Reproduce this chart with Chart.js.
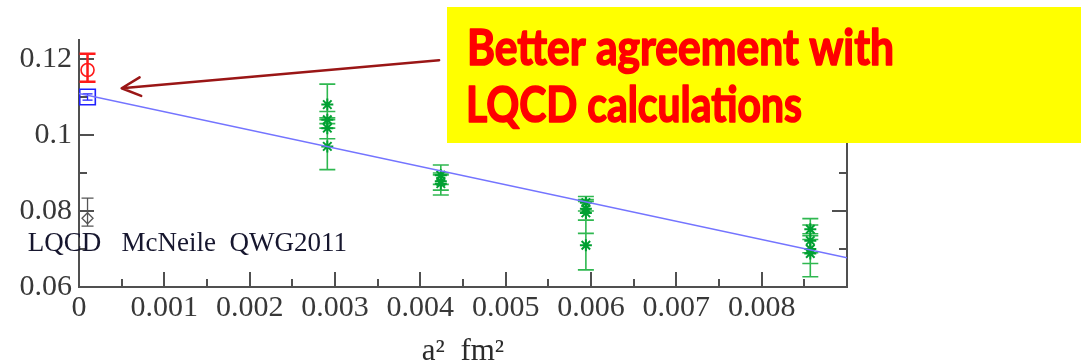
<!DOCTYPE html>
<html>
<head>
<meta charset="utf-8">
<script src="https://cdn.jsdelivr.net/npm/chart.js@4.4.1/dist/chart.umd.min.js"></script>
<style>
  html, body { margin: 0; padding: 0; background: #ffffff; }
  canvas { display: block; }
</style>
</head>
<body>
<canvas id="chart" width="1081" height="361"></canvas>
<script>
// ---- axis ticks ----
const xMajorTicks = [0, 0.001, 0.002, 0.003, 0.004, 0.005, 0.006, 0.007, 0.008];
const xTickLabels = ['0', '0.001', '0.002', '0.003', '0.004', '0.005', '0.006', '0.007', '0.008'];
const xMinorTicks = [0.0005, 0.0015, 0.0025, 0.0035, 0.0045, 0.0055, 0.0065, 0.0075, 0.0085];
const yMajorTicks = [0.06, 0.08, 0.10, 0.12];
const yTickLabels = ['0.06', '0.08', '0.1', '0.12'];
const yMinorTicks = [0.07, 0.09, 0.11];

// ---- lattice ensembles (green), a^2 in fm^2 ----
const latticeX  = [0.00291, 0.00291, 0.00291, 0.00291,
                   0.00424, 0.00424, 0.00424,
                   0.00594, 0.00594, 0.00594, 0.00594,
                   0.00857, 0.00857, 0.00857, 0.00857];
const latticeY  = [0.1080, 0.1040, 0.1018, 0.0970,
                   0.0894, 0.0878, 0.0872,
                   0.0822, 0.0806, 0.0795, 0.0710,
                   0.0752, 0.0722, 0.0700, 0.0688];
const latticeLo = [0.1040, 0.1018, 0.0990, 0.0909,
                   0.0870, 0.0855, 0.0842,
                   0.0800, 0.0776, 0.0741, 0.0645,
                   0.0725, 0.0690, 0.0662, 0.0627];
const latticeHi = [0.1134, 0.1062, 0.1045, 0.1030,
                   0.0921, 0.0900, 0.0895,
                   0.0838, 0.0830, 0.0825, 0.0776,
                   0.0780, 0.0763, 0.0735, 0.0740];

// ---- values at a^2 -> 0 ----
const redX = [0.0001],   redY = [0.1171],   redLo = [0.1140],   redHi = [0.1214];
const blueX = [0.0001],  blueY = [0.1100],  blueLo = [0.1092],  blueHi = [0.1108];
const blackX = [0.0001], blackY = [0.0781], blackLo = [0.0760], blackHi = [0.0834];

// ---- linear continuum extrapolation ----
const fitX = [0, 0.009];
const fitY = [0.1109, 0.0677];

// ---- labels ----
const sourceLabel = 'LQCD   McNeile  QWG2011';
const sourceAt = [-0.0006, 0.0695];
const noteLines = ['Better agreement with', 'LQCD calculations'];
const arrowFrom = [0.00422, 0.1197];
const arrowTo = [0.0005, 0.1123];

const pts = (xs, ys) => xs.map((x, i) => ({ x: x, y: ys[i] }));
const serif = "'Liberation Serif', 'Times New Roman', serif";
const axisColor = '#505050';

// inward ticks on left, bottom and right, plus the right frame edge
const frameTicks = {
  id: 'frameTicks',
  beforeDatasetsDraw(chart) {
    const { ctx, chartArea: a, scales: { x, y } } = chart;
    ctx.save();
    ctx.strokeStyle = axisColor;
    ctx.lineWidth = 2;
    ctx.beginPath();
    ctx.moveTo(a.right, a.top);
    ctx.lineTo(a.right, a.bottom);
    const majorLen = 15, minorLen = 8;
    const vTick = (v, len) => {
      const px = Math.round(x.getPixelForValue(v));
      ctx.moveTo(px, a.bottom); ctx.lineTo(px, a.bottom - len);
    };
    const hTick = (v, len) => {
      const py = Math.round(y.getPixelForValue(v));
      ctx.moveTo(a.left, py); ctx.lineTo(a.left + len, py);
      ctx.moveTo(a.right, py); ctx.lineTo(a.right - len, py);
    };
    xMajorTicks.forEach(v => vTick(v, majorLen));
    xMinorTicks.forEach(v => vTick(v, minorLen));
    yMajorTicks.forEach(v => hTick(v, majorLen));
    yMinorTicks.forEach(v => hTick(v, minorLen));
    ctx.stroke();
    ctx.restore();
  }
};

// vertical error bars with caps
const errorBars = {
  id: 'errorBars',
  beforeDatasetsDraw(chart) {
    const { ctx, scales: { x, y } } = chart;
    chart.data.datasets.forEach(ds => {
      if (!ds.errLo) return;
      ctx.save();
      ctx.strokeStyle = ds.errColor || ds.borderColor;
      ctx.lineWidth = ds.errWidth || 1.5;
      ctx.beginPath();
      ds.data.forEach((p, i) => {
        const px = x.getPixelForValue(p.x);
        const lo = y.getPixelForValue(ds.errLo[i]);
        const hi = y.getPixelForValue(ds.errHi[i]);
        const c = ds.capHalf;
        ctx.moveTo(px, lo); ctx.lineTo(px, hi);
        ctx.moveTo(px - c, lo); ctx.lineTo(px + c, lo);
        ctx.moveTo(px - c, hi); ctx.lineTo(px + c, hi);
      });
      ctx.stroke();
      ctx.restore();
    });
  }
};

// text label, arrow and highlighted note
const notes = {
  id: 'notes',
  afterDraw(chart) {
    const { ctx, scales: { x, y } } = chart;
    ctx.save();

    ctx.fillStyle = '#16162e';
    ctx.font = '27px ' + serif;
    ctx.textBaseline = 'alphabetic';
    ctx.textAlign = 'left';
    ctx.fillText(sourceLabel, x.getPixelForValue(sourceAt[0]), y.getPixelForValue(sourceAt[1]));

    const x0 = x.getPixelForValue(arrowFrom[0]), y0 = y.getPixelForValue(arrowFrom[1]);
    const x1 = x.getPixelForValue(arrowTo[0]), y1 = y.getPixelForValue(arrowTo[1]);
    ctx.strokeStyle = '#9a1616';
    ctx.lineWidth = 2.5;
    ctx.lineCap = 'round';
    ctx.lineJoin = 'round';
    ctx.beginPath();
    ctx.moveTo(x0, y0); ctx.lineTo(x1, y1);
    const ang = Math.atan2(y0 - y1, x0 - x1), L = 21, spread = 0.46;
    ctx.moveTo(x1 + L * Math.cos(ang + spread), y1 + L * Math.sin(ang + spread));
    ctx.lineTo(x1, y1);
    ctx.lineTo(x1 + L * Math.cos(ang - spread), y1 + L * Math.sin(ang - spread));
    ctx.stroke();

    ctx.fillStyle = '#ffff00';
    ctx.fillRect(447, 7, 634, 136);

    ctx.fillStyle = '#ff0000';
    ctx.strokeStyle = '#ff0000';
    ctx.lineWidth = 1.6;
    ctx.lineJoin = 'round';
    ctx.font = "bold 49px 'Comic Sans MS', 'Lato', sans-serif";
    const fit = (text, tx, ty, w) => {
      const m = ctx.measureText(text).width;
      ctx.save();
      ctx.translate(tx, ty);
      ctx.scale(w / m, 1);
      ctx.fillText(text, 0, 0);
      ctx.strokeText(text, 0, 0);
      ctx.restore();
    };
    fit(noteLines[0], 467, 65, 427);
    fit(noteLines[1], 466, 122, 336);
    ctx.restore();
  }
};

new Chart(document.getElementById('chart'), {
  type: 'scatter',
  data: {
    datasets: [
      {
        type: 'line', data: pts(fitX, fitY),
        borderColor: '#7474ff', borderWidth: 1.5, pointRadius: 0, fill: false
      },
      {
        data: pts(latticeX, latticeY), errLo: latticeLo, errHi: latticeHi,
        capHalf: 8, errColor: '#2fb850', errWidth: 1.6,
        pointStyle: 'star', pointRadius: 6, borderColor: '#00a032', borderWidth: 2,
        backgroundColor: 'transparent'
      },
      {
        data: pts(redX, redY), errLo: redLo, errHi: redHi,
        capHalf: 8, errColor: '#ff1a1a', errWidth: 2.5,
        pointStyle: 'circle', pointRadius: 6.5, borderColor: '#ff1a1a', borderWidth: 1.6,
        backgroundColor: 'transparent'
      },
      {
        data: pts(blueX, blueY), errLo: blueLo, errHi: blueHi,
        capHalf: 5, errColor: '#2020ff', errWidth: 1.3,
        pointStyle: 'rect', pointRadius: 11, borderColor: '#2020ff', borderWidth: 1.6,
        backgroundColor: 'transparent'
      },
      {
        data: pts(blackX, blackY), errLo: blackLo, errHi: blackHi,
        capHalf: 6, errColor: '#555555', errWidth: 1.3,
        pointStyle: 'rectRot', pointRadius: 5.5, borderColor: '#555555', borderWidth: 1.3,
        backgroundColor: 'transparent'
      }
    ]
  },
  options: {
    responsive: false,
    animation: false,
    devicePixelRatio: 1,
    layout: { padding: { left: 0, right: 234, top: 40, bottom: 0 } },
    plugins: { legend: { display: false }, tooltip: { enabled: false } },
    scales: {
      x: {
        type: 'linear', position: 'bottom', min: 0, max: 0.009,
        afterBuildTicks: s => { s.ticks = xMajorTicks.map(v => ({ value: v })); },
        afterFit: s => { s.height = 74; },
        ticks: {
          callback: (v, i) => xTickLabels[i],
          autoSkip: false, maxRotation: 0, padding: 3,
          color: '#383838', font: { family: serif, size: 30 }
        },
        grid: { drawOnChartArea: false, drawTicks: false },
        border: { display: true, color: axisColor, width: 2 },
        title: {
          display: true, text: 'a²  fm²', color: '#2a2a2a',
          font: { family: serif, size: 31, lineHeight: 0.6 }, padding: 0
        }
      },
      y: {
        type: 'linear', position: 'left', min: 0.06, max: 0.125,
        afterBuildTicks: s => { s.ticks = yMajorTicks.map(v => ({ value: v })); },
        afterFit: s => { s.width = 79; },
        ticks: {
          callback: (v, i) => yTickLabels[i],
          autoSkip: false, padding: 7,
          color: '#383838', font: { family: serif, size: 30 }
        },
        grid: { drawOnChartArea: false, drawTicks: false },
        border: { display: true, color: axisColor, width: 2 }
      }
    }
  },
  plugins: [frameTicks, errorBars, notes]
});
</script>
</body>
</html>
